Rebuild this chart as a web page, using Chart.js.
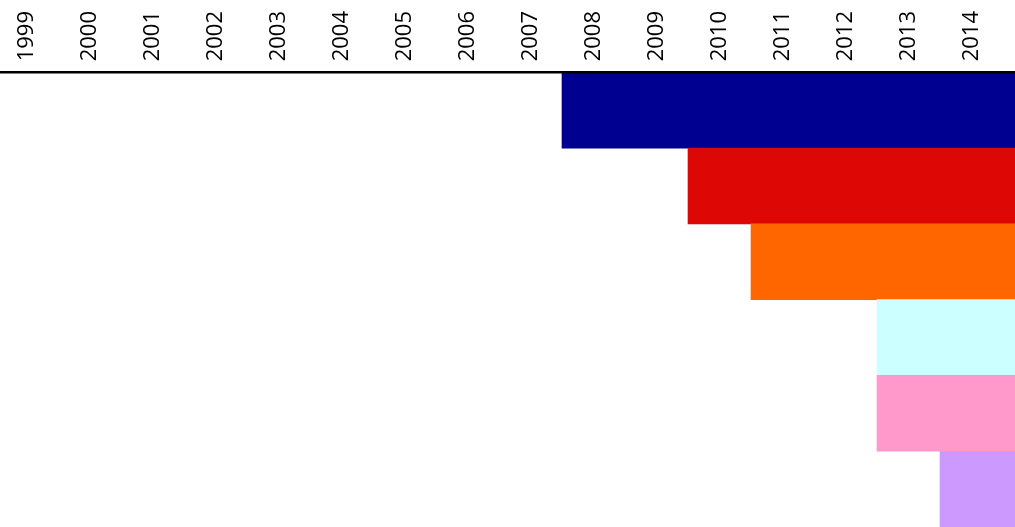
<!DOCTYPE html>
<html>
<head>
<meta charset="utf-8">
<style>
  html, body { margin: 0; padding: 0; background: #fff; }
  #wrap { width: 1015px; height: 527px; position: relative; }
</style>
<script src="https://cdn.jsdelivr.net/npm/chart.js@4/dist/chart.umd.min.js"></script>
</head>
<body>
<div id="wrap"><canvas id="timeline"></canvas></div>
<script>
// years shown along the top
const years = [1999, 2000, 2001, 2002, 2003, 2004, 2005, 2006, 2007, 2008, 2009, 2010, 2011, 2012, 2013, 2014];

// one row per bar, each starting in its year and running on past the right edge
const rows = ["1", "2", "3", "4", "5", "6"];
const startYears = [2008, 2010, 2011, 2013, 2013, 2014];
const endYears = [2016, 2016, 2016, 2016, 2016, 2016];
const colors = ["#000090", "#DD0806", "#FF6600", "#CCFFFF", "#FF99CC", "#CC99FF"];

const spans = [];
for (let i = 0; i < rows.length; i++) {
  spans.push([startYears[i], endYears[i]]);
}

const labelSize = 22;

new Chart(document.getElementById("timeline"), {
  type: "bar",
  data: {
    labels: rows,
    datasets: [
      {
        data: spans,
        backgroundColor: colors,
        borderWidth: 0,
        barPercentage: 1,
        categoryPercentage: 1,
      },
    ],
  },
  options: {
    indexAxis: "y",
    responsive: true,
    maintainAspectRatio: false,
    animation: false,
    layout: { padding: { top: 11, left: 0, right: 0, bottom: 0 } },
    plugins: {
      legend: { display: false },
      tooltip: { enabled: false },
    },
    scales: {
      x: {
        type: "linear",
        position: "top",
        // each year takes one unit, label sits in the middle of it
        min: 1999.08,
        max: 2015.19,
        afterBuildTicks: (scale) => {
          scale.ticks = years.map((y) => ({ value: y + 0.5 }));
        },
        grid: { display: false, drawTicks: true, tickLength: 11 },
        border: { display: true, color: "#000", width: 2.5, z: 1 },
        ticks: {
          autoSkip: false,
          minRotation: 90,
          maxRotation: 90,
          padding: 0,
          // rotated labels get pulled left by one line height, push them back
          labelOffset: labelSize * 1.2,
          color: "#000",
          font: { family: "'Open Sans'", size: labelSize },
          callback: (value) => String(Math.floor(value)),
        },
      },
      y: {
        display: false,
        grid: { display: false },
      },
    },
  },
});
</script>
</body>
</html>
